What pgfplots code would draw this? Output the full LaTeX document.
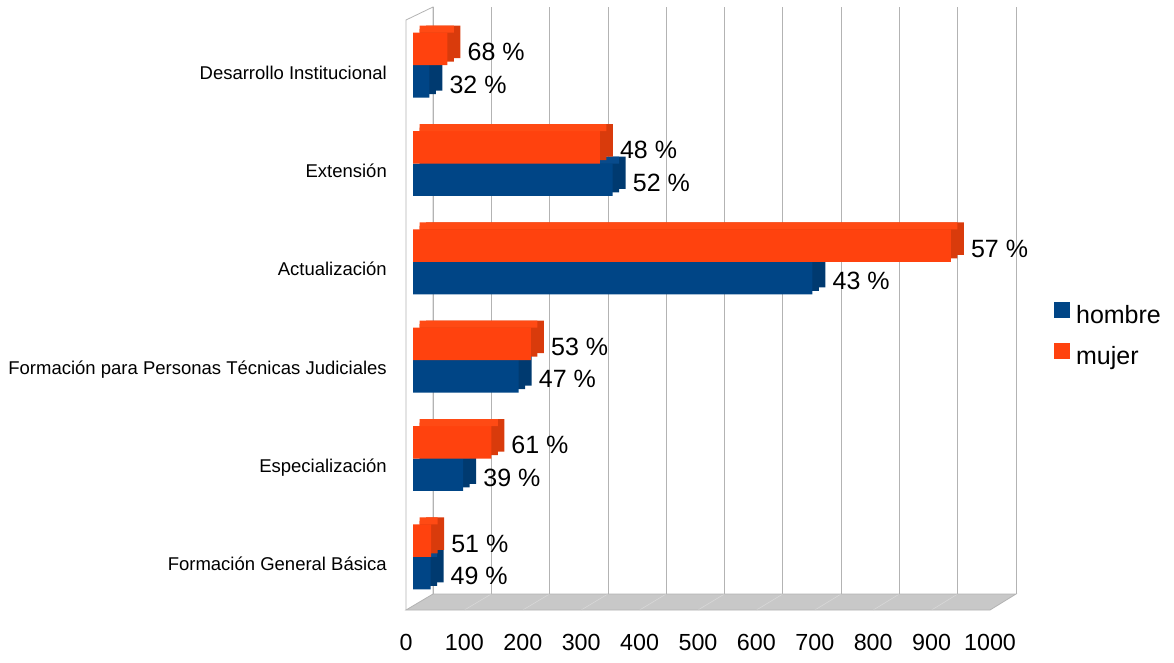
\documentclass[border=0pt]{standalone}
\usepackage{fontspec}
\setmainfont{Liberation Sans}
\usepackage{pgfplots}
\pgfplotsset{compat=1.18}
\usepackage{pgfplotstable}

\definecolor{hcol}{HTML}{004586}
\definecolor{htop}{HTML}{084B8C}
\definecolor{hside}{HTML}{003A70}
\definecolor{mcol}{HTML}{FF420E}
\definecolor{mtop}{HTML}{FF4A14}
\definecolor{mside}{HTML}{D93B0C}
\definecolor{gridc}{HTML}{B3B3B3}
\definecolor{floorc}{HTML}{C8C8C8}

% cat: 0 = bottom row; hp/mp = share of the row in percent
\pgfplotstableread{
cat h   m   hp mp
0   30  31  49 51
1   86  134 39 61
2   181 202 47 53
3   684 921 43 57
4   342 320 52 48
5   28  59  32 68
}\datos

\begin{document}
\begin{tikzpicture}[x=1pt,y=1pt]
\useasboundingbox (0,0) rectangle (1174,662);

% back wall with the grid
\begin{axis}[at={(433pt,68pt)}, anchor=south west,
    width=583pt, height=587pt, scale only axis,
    xmin=0, xmax=1000, ymin=0, ymax=1,
    axis line style={draw=none}, tick style={draw=none},
    xtick={0,100,...,1000}, xticklabels={}, ytick=\empty,
    xmajorgrids, major grid style={gridc, line width=0.8pt}]
\end{axis}

% floor and left wall
\fill[floorc] (406,52) -- (990,52) -- (1016,68) -- (433,68) -- cycle;
\foreach \k in {1,...,9}
  \draw[white!30!floorc, line width=0.6pt] ({406+58.4*\k},52) -- ({433+58.3*\k},68);
\draw[gridc, line width=0.8pt] (406,52) -- (990,52) -- (1016,68) -- (433,68) -- cycle;
\draw[gridc, line width=0.8pt] (406,52) -- (406,642) -- (433,655) -- (433,68);

\begin{axis}[at={(413pt,56pt)}, anchor=south west,
    width=584pt, height=590pt, scale only axis,
    xmin=0, xmax=1000, ymin=-0.5, ymax=5.5, clip=false,
    axis line style={draw=none}, major tick length=0pt, tick style={draw=none},
    xtick={0,100,...,1000}, ytick={0,...,5},
    yticklabels={Formación General Básica, Especialización,
      Formación para Personas Técnicas Judiciales, Actualización,
      Extensión, Desarrollo Institucional},
    /pgf/number format/assume math mode=true,
    /pgf/number format/1000 sep={},
    xticklabel style={font=\fontsize{23.3}{28}\selectfont, anchor=center,
      inner sep=0pt, xshift=-7pt, yshift=-36pt},
    yticklabel style={font=\fontsize{18.5}{22}\selectfont, anchor=base east,
      inner sep=0pt, xshift=-26pt, yshift=-14pt},
    xbar, bar width=32.45pt,
    front/.style={draw=none, point meta=explicit,
      nodes near coords={\pgfmathprintnumber{\pgfplotspointmeta} \%}},
    every node near coord/.append style={font=\fontsize{25}{30}\selectfont,
      anchor=west, inner sep=0pt, xshift=20pt, yshift=-3pt, text=black},
    legend style={at={(axis description cs:1.0976,0.458)}, anchor=west,
      draw=none, fill=none, inner sep=0pt, row sep=15pt,
      font=\fontsize{25}{30}\selectfont,
      nodes={inner sep=0pt, text height=18pt, text depth=5pt},
      /tikz/every odd column/.append style={column sep=6.5pt}},
    legend cell align=left]

% hombre: side, front, top
\addplot[fill=hside, draw=none, bar shift=-16.225pt, xshift=13pt, yshift=7pt, forget plot]
  table[x=h, y=cat] {\datos};
\addplot[fill=hside, draw=none, bar shift=-16.225pt, xshift=6.5pt, yshift=3.5pt, forget plot]
  table[x=h, y=cat] {\datos};
\addplot[fill=hcol, front, bar shift=-16.225pt, forget plot]
  table[x=h, y=cat, meta=hp] {\datos};
\addplot[fill=htop, draw=none, bar width=7pt, bar shift=3.5pt, xshift=6.5pt, forget plot]
  table[x=h, y=cat] {\datos};

% mujer: side, front, top
\addplot[fill=mside, draw=none, bar shift=16.225pt, xshift=13pt, yshift=7pt, forget plot]
  table[x=m, y=cat] {\datos};
\addplot[fill=mside, draw=none, bar shift=16.225pt, xshift=6.5pt, yshift=3.5pt, forget plot]
  table[x=m, y=cat] {\datos};
\addplot[fill=mcol, front, bar shift=16.225pt, forget plot]
  table[x=m, y=cat, meta=mp] {\datos};
\addplot[fill=mtop, draw=none, bar width=7pt, bar shift=35.95pt, xshift=6.5pt, forget plot]
  table[x=m, y=cat] {\datos};

\addlegendimage{legend image code/.code={\fill[hcol] (0pt,0pt) rectangle (15pt,15pt);}}
\addlegendentry{hombre}
\addlegendimage{legend image code/.code={\fill[mcol] (0pt,0pt) rectangle (15pt,15pt);}}
\addlegendentry{mujer}
\end{axis}
\end{tikzpicture}
\end{document}
